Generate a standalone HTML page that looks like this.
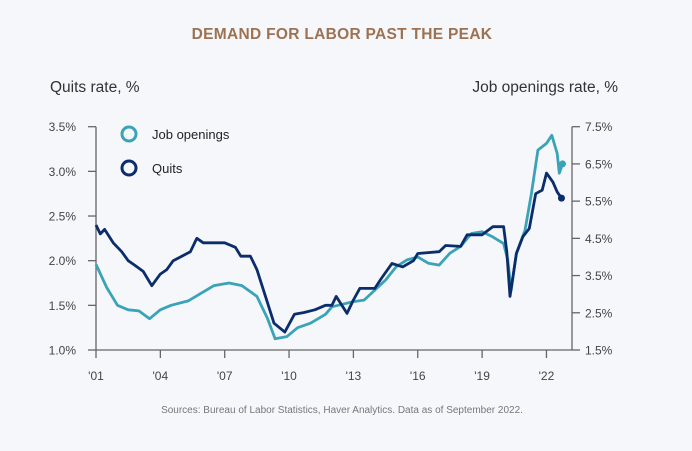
<!DOCTYPE html>
<html><head><meta charset="utf-8"><style>
body{margin:0;background:#f5f7fa;}
svg{display:block;font-family:"Liberation Sans",sans-serif;}
</style></head><body>
<svg width="692" height="451" viewBox="0 0 692 451">
<rect width="692" height="451" fill="#f5f7fa"/>
<text x="342" y="39" text-anchor="middle" font-size="15.5" font-weight="bold" fill="#9c7252" letter-spacing="0.3">DEMAND FOR LABOR PAST THE PEAK</text>
<text x="50" y="92" font-size="15.5" fill="#333">Quits rate, %</text>
<text x="618" y="92" text-anchor="end" font-size="15.5" fill="#333">Job openings rate, %</text>
<g id="axes"></g>
<g id="series"></g>
<g>
<circle cx="129" cy="134" r="7" fill="none" stroke="#3aa3b8" stroke-width="3"/>
<text x="152" y="139" font-size="13" fill="#222">Job openings</text>
<circle cx="129" cy="168" r="7" fill="none" stroke="#0b2d6b" stroke-width="3"/>
<text x="152" y="173" font-size="13" fill="#222">Quits</text>
</g>
<text x="342" y="413" text-anchor="middle" font-size="10" fill="#777">Sources: Bureau of Labor Statistics, Haver Analytics. Data as of September 2022.</text>
</svg>
<script>
const leftTicks=[1.0,1.5,2.0,2.5,3.0,3.5];
const rightTicks=[1.5,2.5,3.5,4.5,5.5,6.5,7.5];
const xTickYears=[2001,2004,2007,2010,2013,2016,2019,2022];
const xTickLabels=["'01","'04","'07","'10","'13","'16","'19","'22"];
const quitsYears=[2001.0,2001.2,2001.4,2001.8,2002.2,2002.5,2002.8,2003.2,2003.6,2004.0,2004.3,2004.6,2005.0,2005.4,2005.7,2006.0,2006.5,2007.0,2007.5,2007.75,2008.2,2008.5,2008.9,2009.3,2009.8,2010.25,2010.7,2011.2,2011.7,2012.0,2012.2,2012.7,2013.0,2013.3,2014.0,2014.3,2014.8,2015.3,2015.8,2016.0,2017.0,2017.3,2018.0,2018.3,2019.0,2019.5,2020.0,2020.15,2020.3,2020.6,2020.9,2021.2,2021.5,2021.8,2022.0,2022.3,2022.5,2022.7];
const quitsValues=[2.4,2.3,2.35,2.2,2.1,2.0,1.95,1.88,1.72,1.85,1.9,2.0,2.05,2.1,2.25,2.2,2.2,2.2,2.15,2.05,2.05,1.9,1.6,1.3,1.2,1.4,1.42,1.45,1.5,1.5,1.6,1.41,1.56,1.69,1.69,1.8,1.97,1.93,2.0,2.08,2.1,2.17,2.16,2.29,2.29,2.38,2.38,2.1,1.6,2.08,2.27,2.36,2.75,2.79,2.98,2.88,2.77,2.7];
const jobYears=[2001.0,2001.5,2002.0,2002.5,2003.0,2003.5,2004.0,2004.5,2005.3,2006.0,2006.5,2007.2,2007.8,2008.5,2009.0,2009.35,2009.9,2010.4,2011.0,2011.7,2012.0,2013.0,2013.5,2014.0,2014.5,2015.0,2015.5,2016.0,2016.5,2017.0,2017.5,2018.0,2018.5,2019.0,2019.5,2020.0,2020.2,2020.35,2020.6,2021.0,2021.3,2021.6,2022.0,2022.25,2022.5,2022.6,2022.75];
const jobValues=[3.8,3.18,2.7,2.58,2.55,2.34,2.58,2.7,2.82,3.06,3.23,3.3,3.23,2.94,2.34,1.8,1.86,2.1,2.22,2.46,2.66,2.8,2.84,3.11,3.38,3.74,3.92,4.0,3.83,3.78,4.1,4.28,4.63,4.68,4.54,4.36,3.92,3.1,4.1,4.72,5.7,6.87,7.05,7.27,6.78,6.25,6.5];
const X0=96,X1=572,Y0=350,Y1=126.7;
const xs=y=>X0+(y-2001)*21.45;
const yl=v=>Y0+(v-1.0)/(3.5-1.0)*(Y1-Y0);
const yr=v=>Y0+(v-1.5)/(7.5-1.5)*(Y1-Y0);
const NS="http://www.w3.org/2000/svg";
function mk(t,a,p){const e=document.createElementNS(NS,t);for(const k in a)e.setAttribute(k,a[k]);p.appendChild(e);return e;}
const ax=document.getElementById('axes');
let l=mk('line',{x1:X0,y1:Y1,x2:X0,y2:Y0,stroke:'#666','stroke-width':1.3},ax);


l=mk('line',{x1:X1,y1:Y1,x2:X1,y2:Y0,stroke:'#666','stroke-width':1.3},ax);


l=mk('line',{x1:X0,y1:Y0,x2:X1,y2:Y0,stroke:'#666','stroke-width':1.3},ax);


leftTicks.forEach(v=>{const y=yl(v);
 const t=mk('line',{x1:X0-8,y1:y,x2:X0,y2:y,stroke:'#666','stroke-width':1.3},ax);
 
 
 const tx=mk('text',{x:X0-20,y:y+4.5,'text-anchor':'end','font-size':12,fill:'#444'},ax);tx.textContent=v.toFixed(1)+'%';
 
 });
rightTicks.forEach(v=>{const y=yr(v);
 const t=mk('line',{x1:X1,y1:y,x2:X1+8,y2:y,stroke:'#666','stroke-width':1.3},ax);
 
 
 const tx=mk('text',{x:X1+13,y:y+4.5,'font-size':12,fill:'#444'},ax);tx.textContent=v.toFixed(1)+'%';
 
 });
xTickYears.forEach((yv,i)=>{const x=xs(yv);
 const t=mk('line',{x1:x,y1:Y0,x2:x,y2:Y0+8,stroke:'#666','stroke-width':1.3},ax);
 
 
 const tx=mk('text',{x:x,y:Y0+30,'text-anchor':'middle','font-size':12,fill:'#444'},ax);tx.textContent=xTickLabels[i];
 
 });
const sg=document.getElementById('series');
function line(ys,vs,f,c,name){
 const d=ys.map((y,i)=>(i?'L':'M')+xs(y).toFixed(1)+','+f(vs[i]).toFixed(1)).join('');
 const p=mk('path',{d:d,fill:'none',stroke:c,'stroke-width':2.8,'stroke-linejoin':'round'},sg);
 
 
 const n=ys.length-1;
 const dot=mk('circle',{cx:xs(ys[n]),cy:f(vs[n]),r:3.5,fill:c},sg);
 
 
}
line(jobYears,jobValues,yr,'#3aa3b8','job-openings-line');
line(quitsYears,quitsValues,yl,'#0b2d6b','quits-line');
</script>
</body></html>
